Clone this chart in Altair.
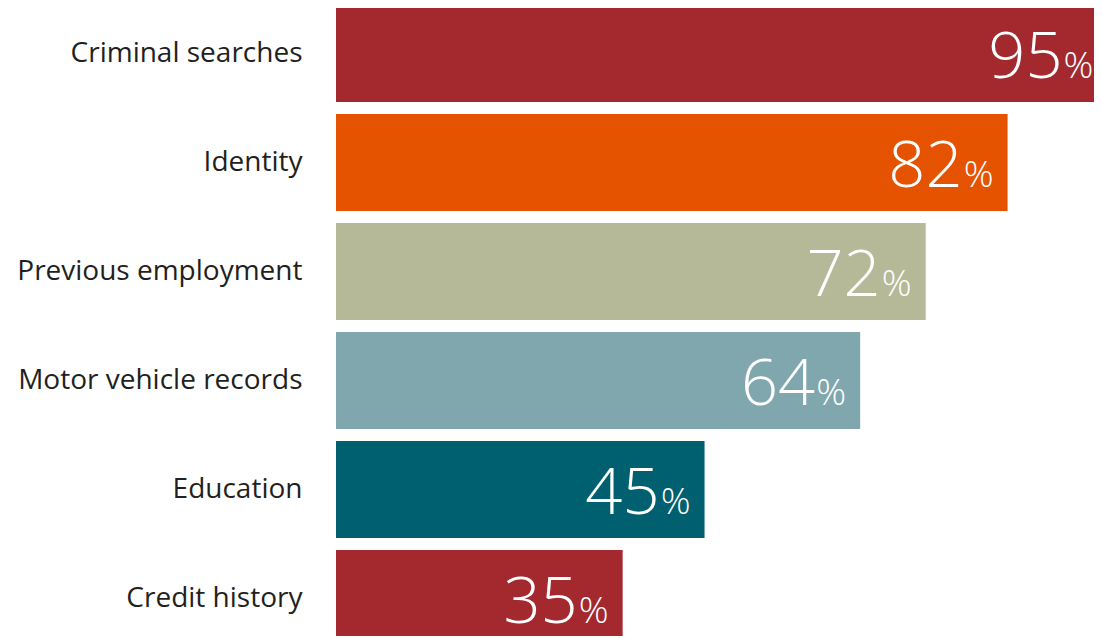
import altair as alt
import pandas as pd

categories = ["Criminal searches", "Identity", "Previous employment",
              "Motor vehicle records", "Education", "Credit history"]
values = [95, 82, 72, 64, 45, 35]
colors = ["#A3292F", "#E55300", "#B5B997", "#7FA7AD", "#00606F", "#A3292F"]

df = pd.DataFrame({"category": categories, "value": values})
df["num"] = df["value"].astype(str)
df["pct"] = "%"

FONT = "Open Sans"
XMAX = 758 / 8.19  # visible part of the value axis

y_enc = alt.Y("category:N", sort=categories,
              scale=alt.Scale(range=[-9, 645], paddingInner=0.11, paddingOuter=0.055),
              axis=alt.Axis(title=None, domain=False, ticks=False, labelFontSize=28,
                            labelFont=FONT, labelColor="#231F20", labelPadding=34,
                            labelLimit=400))
x_scale = alt.Scale(domain=[0, XMAX])
x_enc = alt.X("value:Q", scale=x_scale, axis=None)
xt_enc = alt.X("tx:Q", scale=x_scale, axis=None)

base = alt.Chart(df)
bars = base.mark_bar(clip=True).encode(
    y=y_enc, x=x_enc,
    color=alt.Color("category:N", scale=alt.Scale(domain=categories, range=colors), legend=None),
)
labels = base.transform_calculate(tx="min(datum.value, 94.2)")
nums = labels.mark_text(align="right", baseline="alphabetic", dx=-45, dy=24,
                        fontSize=65, font=FONT, fontWeight=300, color="white").encode(
    y=y_enc, x=xt_enc, text="num:N")
pcts = labels.mark_text(align="right", baseline="alphabetic", dx=-14, dy=24,
                        fontSize=37, font=FONT, fontWeight=300, color="white").encode(
    y=y_enc, x=xt_enc, text="pct:N")

chart = alt.layer(bars, nums, pcts).properties(
    width=758, height=628,
    padding={"left": 328, "top": 0, "right": 0, "bottom": 0},
    autosize=alt.AutoSizeParams(type="none"),
).configure_view(stroke=None)

chart.save("out.html", embed_options={"renderer": "svg", "actions": False})
